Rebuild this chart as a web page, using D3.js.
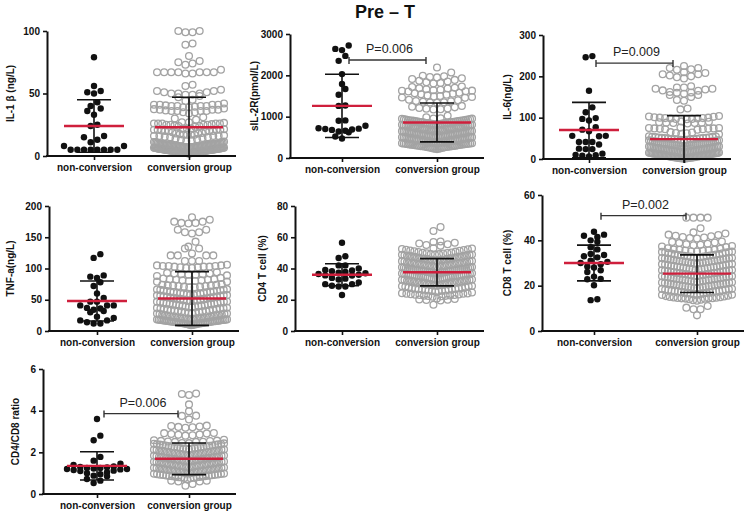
<!DOCTYPE html>
<html><head><meta charset="utf-8">
<script src="https://cdn.jsdelivr.net/npm/d3@7"></script>
<style>body{margin:0;background:#fff}svg{font-family:"Liberation Sans",Arial,sans-serif;display:block}</style>
</head><body><svg id="c" width="750" height="513"></svg>
<script>
// ---------- data ----------
const chartTitle = "Pre \u2013 T";
const groups = ["non-conversion", "conversion group"];
const yTitles = ["IL-1 \u03b2 (ng/L)", "sIL-2R(pmol/L)", "IL-6(ng/L)", "TNF-a(ng/L)", "CD4 T cell (%)", "CD8 T cell (%)", "CD4/CD8 ratio"];
const yMax = [100, 3000, 300, 200, 80, 60, 6];
const yTicks = [[0,50,100],[0,1000,2000,3000],[0,100,200,300],[0,50,100,150,200],[0,20,40,60,80],[0,20,40,60],[0,2,4,6]];

const il1bNon = [79,56,52,51,50,43,40,38,36,33,25,24,16,15,13,11,8,8,5,5,5,5,5,5,5,5];
const il1bConv = [100,100,99,99,90,89,80,76,75,74,73,69,67,67,67,67,67,67,67,66,66,57,56,53,52,52,51,51,50,50,50,49,49,48,47,45,44,
  42,41,41,41,41,40,40,40,40,39,39,38,37,37,37,36,36,36,36,35,35,34,31,30,29,27,27,26,26,26,26,26,25,25,25,25,24,24,
  22,22,22,21,21,21,21,20,20,20,20,19,18,18,17,17,17,17,16,16,16,16,15,15,12,11.5,11,11,10.5,10,10,9.8,9.5,9.5,9.2,9,9,8.8,8.5,8.5,8.3,
  8,8,7.8,7.6,7.5,7.3,7.2,7,7,6.8,6.6,6.5,6.4,6.2,6,6,5.9,5.8,5.6,5.5,5.4,5.3,5.2,5,5,4.9,4.8,4.7,4.6,4.5,4.4,4.3,4.2,4.1,4,3.9,
  3.8,3.7,3.6,3.5,3.4,3.3,3.2,3.1,3,2.9,2.8,2.7,2.6,2.5,2.4,2.2,2,
  11.2,10.9,10.7,10.3,10.1,9.9,9.8,9.6,9.4,9.3,9.1,8.9,8.8,8.6,8.4,8.3,8.1,7.9,7.8,7.6,7.4,7.3,7.1,6.9,6.8,6.6,6.4,6.3,6.1,5.9,
  5.8,5.6,5.4,5.3,5.1,4.9,4.8,4.6,4.4,4.3,4.1,3.9,3.8,3.6,3.4,3.3,3.1,2.9,2.8,2.6,2.4,2.3,2.1,10.4,9.7,8.7,7.7,6.7,5.7,4.7,3.7,2.7,
  21.5,20.5,19.5,18.5,17.5,16.5,15.5,14.5,14,13.5,13,12.5,40.5,39.5,37.5,36.5,26.5,25.5,24.5,23.5];

const sil2rNon = [2720,2640,2610,2470,2350,2030,1790,1670,1530,1270,1260,910,900,780,720,710,700,690,680,660,640,620,520,470];
const sil2rConv = [2190,2070,1990,1975,1960,1950,1930,1910,1890,1870,1850,1830,1815,1800,1730,1715,1700,1690,1680,1665,1650,1640,1630,1625,1615,1610,
  1580,1565,1555,1540,1530,1515,1500,1490,1475,1465,1455,1410,1395,1380,1370,1360,1350,1345,1335,1260,1240,1225,1210,1200,1190,1180,1175,1020,985,
  960,952,944,931,925,913,906,899,893,887,880,874,868,861,855,848,841,836,826,817,809,801,794,788,779,772,764,757,751,744,738,731,723,716,708,
  701,695,688,682,675,667,661,653,646,640,632,626,618,611,604,597,590,583,577,569,562,556,548,541,533,527,519,512,505,498,490,484,476,469,
  461,454,447,441,432,426,419,411,404,398,390,383,376,369,361,354,346,339,333,325,318,310,303,296,288,281,274,266,258,249,238,226,
  957,948,938,928,919,909,897,884,871,858,846,833,821,812,803,792,781,769,758,747,735,726,714,703,692,684,671,663,650,642,636,623,614,606,593,586,
  574,565,553,545,536,524,517,508,501,493,486,472,465,457,450,437,428,422,414,407,395,387,379,372,364,357,349,342,336,328,321,314,306,299,292,284,
  277,270,262,254,244,232,222,215,905,872,839,806,774,741,709,676,644,611,579,546,514,481,449,416,384,351,319,286];

const il6Non = [249,246,165,125,113,99,97,93,77,71,67,56,56,55,41,41,41,35,25,24,24,13,10,9,8,6];
const il6Conv = [225,220,220,217,216,210,208,205,205,202,200,198,195,176,173,173,170,170,168,166,165,162,161,160,158,155,155,150,143,141,122,120,
  104,103,102,101,100,100,99,99,98,98,97,97,96,91,90,89,88,88,87,87,86,76,75,75,74,74,73,73,72,72,71,65,64,63,62,61,60,
  55,54,53,52.5,51,50,49.5,49,48,47,46.5,46,45,44,43,42.5,42,41,40,39.5,39,38,37,36.5,36,35,34,33.5,33,32,31,30.5,30,29,28,
  27.5,27,26,25,24.5,24,23,22.5,22,21,20.5,20,19.5,19,18,17.5,17,16.5,16,15.5,15,14.5,14,13.5,13,12.5,12,11.5,11,10.5,10,9.5,9,
  8.5,8,7.5,7,6.5,6,5.5,5,4.5,4,3.5,3,2.5,2,1.5,1,
  54.5,53.5,51.5,50.5,48.5,47.5,45.5,44.5,43.5,41.5,40.5,38.5,37.5,35.5,34.5,32.5,31.5,29.5,28.5,26.5,25.5,23.5,21.5,18.5,16,14,12,10,8,6,4,2,
  52,48,44,40,36,32,28,24,20,16.8,13.2,9.2,5.2,3.8,2.2,1.2,50.8,46.2,42.2,38.2,34.2,30.2,26.2,22.2,18.2,14.2,11.2,8.2,6.2,4.2,3.2,2.8,1.8,
  7.8,9.8,12.8,15.2,17.2,19.2,21.2,23.2,25.2,27.2];

const tnfNon = [123,117,89,87,85,78,72,60,53,47,47,41,41,41,37,36,34,32,30,23,21,17,17,14,12,12];
const tnfConv = [182,178,175,175,173,173,172,162,162,158,158,156,143,135,132,132,124,121,121,121,121,112,112,112,
  106,105,105,104,104,104,103,103,103,102,102,101,101,94,93,92,92,91,91,90,90,89,88,85,84,83,83,82,82,81,81,80,80,79,79,
  75,74,74,73,73,73,72,72,71,71,70,70,67,66,66,65,64,63,63,62,61,60,60,59,58,57,57,56,55,54,53,52,52,51,50,49,48,47,47,46,
  45,44,44,43,42,41,40,40,39,38,37,36,36,35,34,33,32,32,31,30,29,28,28,27,26,25,25,24,23,22,22,21,20.5,20,19.5,19,18.5,18,
  17.5,17,16.5,16,15.5,15,14.5,14,13.5,13,12.5,12,11,10,
  66.5,65.2,64.4,63.1,62.3,61.2,60.4,59.3,58.1,57.4,56.2,55.3,54.4,53.2,52.1,51.3,50.4,49.2,48.3,47.2,46.1,45.4,44.3,43.2,42.4,41.3,40.2,39.1,
  38.3,37.2,36.4,35.3,34.2,33.1,32.4,31.2,30.3,29.2,28.4,27.3,26.2,25.1,24.3,23.2,22.4,21.3,20.8,20.2,19.8,19.2,18.8,18.2,17.8,17.2,16.8,16.2,
  15.8,15.2,14.8,14.2,13.8,13.2,12.8,12.2,11.8,11.3,10.8,10.4,9.8,9.2,19.6,18.6,17.6,16.6,15.6,14.6,13.6,12.6];

const cd4Non = [56.5,47.8,46.7,42,42,40,39,38.8,38.2,37.8,37.3,37,36.5,36,35.6,35.5,34,33.5,33,31,30,30,29,28.5,28.5,23];
const cd4Conv = [66.5,64,57.3,57,56.5,56,55.5,55,54.5,53,52.8,52.5,52.3,52,51.8,51.5,51.3,51,50.8,50.5,50.2,
  50.1,49.8,49.6,49.2,49,48.9,48.5,48.3,48.2,47.9,47.6,47.5,47.1,46.9,46.8,46.4,46.2,46,45.9,45.5,45.3,45.2,44.8,44.6,44.5,44.1,43.9,43.8,43.4,43.3,
  43,42.8,42.6,42.3,42.2,41.9,41.7,41.5,41.2,41.1,40.8,40.6,40.4,40.1,40,39.7,39.5,39.4,39.1,38.9,38.7,38.5,38.2,38.1,37.9,37.6,37.5,37.2,37.1,36.8,
  36.6,36.4,36.1,36,35.7,35.5,35.4,35.1,34.9,34.7,34.5,34.2,34.1,33.8,33.6,33.4,33.1,32.9,32.8,32.4,32.2,32,31.7,31.5,31.3,31,30.8,30.5,30.3,30,
  29.7,29.4,29.1,28.8,28.5,28.1,27.6,27.4,27.2,27,26.8,26.6,26.4,26.2,26,25.8,25.6,25.4,24.2,24,23.8,23.6,23.4,23.2,23,22.8,22.6,22.4,22.2,22,
  20.8,20.5,20.2,20,19.8,19.5,16.8,
  49.9,49.3,48.7,48.1,47.3,46.6,45.8,45.1,44.3,43.6,42.9,42.1,41.4,40.9,40.3,39.8,39.2,38.6,38.4,37.7,37.3,36.9,36.2,35.9,35.2,34.6,34,33.3,
  32.6,31.9,31.1,30.6,29.9,29.3,28.6,27.9,27.1,26.5,25.9,25.1,24.6,23.9,23.1,22.5,48.8,47.4,46.3,45.6,44.7,43.5,42.5,41.6,40.7,39.9,39.3,38.8,
  38.3,37.8,37.4,36.7,36.3,35.6,35,34.4,33.5,32.7,31.8,31.2,30.4,29.5,28.3,47.8,45.7,43.7,41.8,40.2,38.9,37.7,36.5,35.3,33.9,32.1,30.1];

const cd8Non = [43.8,42.5,42,41.5,40,39.4,37,36,34,33.5,33,32.5,31,30.5,30,29.5,28.5,28,26.8,26,24,23,22.8,20.2,14,13.6];
const cd8Conv = [50,50,50,50,45.3,43.5,43,42.5,42.3,42,41.8,41.5,41.2,41,40.8,39.5,39.3,39,38.8,38.5,38.3,38,37.8,37.5,37.3,37,
  36.5,36.3,36,35.8,35.6,35.4,35.2,35,34.8,34.6,34.4,34.2,33.9,33.7,33.5,33.3,33.1,33,32.8,32.6,32.4,32.3,32.1,31.9,31.7,31.6,31.4,31.2,31,30.9,30.7,30.5,
  30.3,30.2,30,29.8,29.6,29.5,29.3,29.1,28.9,28.8,28.6,28.4,28.2,28.1,27.9,27.7,27.5,27.4,27.2,27,26.8,26.7,26.5,26.3,26.1,26,25.8,25.6,25.4,25.3,
  25.1,24.9,24.7,24.6,24.4,24.2,24,23.9,23.7,23.5,23.3,23.2,23,22.8,22.6,22.5,22.3,22.1,21.9,21.8,21.6,21.4,21.2,21.1,20.9,20.7,20.5,20.4,20.2,20,
  19.8,19.7,19.5,19.3,19.1,18.6,18.4,18.2,18,17.8,17.6,17.4,17.2,17,16.8,16.6,16.4,16.2,16,15.2,15,14.8,14.6,14.5,14.4,14.3,14.2,14,13.8,13.6,13.4,
  11,10.3,9.6,9.6,6.9,
  35.9,35.5,35.1,34.7,34.3,33.8,33.4,32.9,32.5,32,31.5,31.1,30.6,30.1,29.7,29.2,28.7,28.3,27.8,27.3,26.9,26.4,25.9,25.5,25,24.5,24.1,23.6,23.1,22.7,
  22.2,21.7,21.3,20.8,20.3,19.9,19.4,18.9,18.5,18.1,17.7,17.3,16.9,16.5,15.9,15.4,14.9,14.4,34.9,33.6,32.2,30.8,29.4,28,26.6,25.2,23.8,22.4,21,19.6,
  18.2,16.7,15.6,14.7,33.2,31.3,29.9,27.6,25.7,24.3,22.9,21.5,20.6,19,17.5,16.1];

const ratioNon = [3.6,2.8,2.58,1.78,1.6,1.45,1.4,1.32,1.3,1.28,1.25,1.25,1.22,1.2,1.2,1.18,1.15,1.12,1.1,1.05,1.0,0.95,0.88,0.85,0.72,0.64,0.53];
const ratioConv = [4.82,4.8,4.75,4.3,3.97,3.76,3.75,3.58,3.28,3.26,3.24,3.22,3.2,3.18,2.93,2.92,2.9,2.88,2.86,2.84,2.82,2.8,
  2.6,2.58,2.56,2.55,2.54,2.52,2.51,2.5,2.5,
  2.45,2.43,2.41,2.4,2.38,2.36,2.33,2.31,2.3,2.28,2.25,2.24,2.22,2.2,2.18,2.15,2.14,2.12,2.1,2.08,2.06,2.05,2.03,2.01,2,1.98,1.96,1.95,1.93,1.91,
  1.9,1.88,1.86,1.85,1.83,1.81,1.8,1.78,1.76,1.75,1.73,1.72,1.7,1.68,1.67,1.65,1.63,1.62,1.6,1.58,1.57,1.55,1.53,1.52,1.5,1.48,1.47,1.45,1.43,1.42,
  1.4,1.38,1.37,1.35,1.33,1.32,1.3,1.28,1.27,1.25,1.23,1.22,1.2,1.18,1.17,1.15,1.13,1.12,1.1,1.08,1.06,1.04,1.02,1,0.98,0.96,0.94,0.92,0.9,0.88,
  0.86,0.84,0.82,0.8,0.78,0.76,0.7,0.64,0.64,0.6,0.6,0.48,0.4,
  2.44,2.39,2.35,2.29,2.26,2.21,2.17,2.13,2.09,2.04,1.99,1.94,1.89,1.84,1.79,1.74,1.69,1.64,1.59,1.54,1.49,1.44,1.39,1.34,1.29,1.24,1.19,1.14,
  1.09,1.05,1.01,0.97,0.93,0.89,0.85,0.81,0.77,2.37,2.27,2.16,2.07,1.97,1.87,1.77,1.66,1.56,1.46,1.36,1.26,1.16,1.07,0.99,0.91,0.83,
  2.32,2.11,1.92,1.71,1.51,1.31,1.11,0.95,0.87,0.79,1.61,1.41,1.21,1.71];

const groupMeans = [[24,23],[1260,860],[70,48],[48,52],[36,37.6],[30,25.3],[1.35,1.69]];
const groupSDs   = [[21,24],[765,470],[67,57],[32,43],[7,8.7],[7.9,8.3],[0.68,0.76]];
const pLabels = [null,"P=0.006","P=0.009",null,null,"P=0.002","P=0.006"];
const pBracketY = [null,2370,232,null,null,50.9,3.86];

const seriesNon  = [il1bNon, sil2rNon, il6Non, tnfNon, cd4Non, cd8Non, ratioNon];
const seriesConv = [il1bConv, sil2rConv, il6Conv, tnfConv, cd4Conv, cd8Conv, ratioConv];

// ---------- layout ----------
const frames = [
  {x:47,  top:31,  bot:156, c:[94,189],  lx:10},
  {x:290, top:34,  bot:158, c:[342,437], lx:254},
  {x:543, top:35,  bot:159, c:[589,684], lx:507},
  {x:49,  top:206, bot:331, c:[97,192],  lx:10},
  {x:295, top:206, bot:331, c:[342,437], lx:262},
  {x:542, top:195, bot:331, c:[594,697], lx:507},
  {x:43,  top:369, bot:494, c:[97,189],  lx:15}
];

function swarm(vals, y, cx, r, maxHalf, rowH) {
  const pts = vals.map(v => ({v, py: y(v)})).sort((a, b) => a.v - b.v);
  const d = 2 * r + 0.3;
  const rows = []; let cur = null;
  for (const p of pts) {
    if (!cur || cur.y0 - p.py >= rowH) { cur = {y0: p.py, pts: []}; rows.push(cur); }
    cur.pts.push(p);
  }
  const out = [];
  rows.forEach(row => {
    const n = row.pts.length;
    const sp = n > 1 ? Math.min(d, 2 * maxHalf / (n - 1)) : 0;
    const slots = d3.range(n).map(i => (i - (n - 1) / 2) * sp)
      .sort((a, b) => Math.abs(a) - Math.abs(b) || a - b);
    row.pts.forEach((p, i) => out.push({x: cx + slots[i], y: p.py}));
  });
  return out;
}

const svg = d3.select("#c");
svg.append("text").attr("x", 385).attr("y", 18).attr("text-anchor", "middle")
  .attr("font-size", 18).attr("font-weight", "bold").attr("fill", "#111").text(chartTitle);

frames.forEach((f, i) => {
  const g = svg.append("g");
  const y = d3.scaleLinear().domain([0, yMax[i]]).range([f.bot, f.top]);
  const x = d3.scalePoint().domain(groups).range(f.c);
  const xEnd = f.c[1] + 47;

  // points
  const conv = swarm(seriesConv[i], y, x(groups[1]), 3.4, 35, 6);
  g.append("g").selectAll("circle").data(conv).join("circle")
    .attr("cx", d => d.x).attr("cy", d => d.y).attr("r", 3.4)
    .attr("fill", "none").attr("stroke", "#a3a3a3").attr("stroke-width", 1.3);
  const non = swarm(seriesNon[i], y, x(groups[0]), 3.2, 30, 6.7);
  g.append("g").selectAll("circle").data(non).join("circle")
    .attr("cx", d => d.x).attr("cy", d => d.y).attr("r", 3.2).attr("fill", "#111");

  // error bars + mean
  groups.forEach((gname, k) => {
    const cx = x(gname), m = groupMeans[i][k], s = groupSDs[i][k];
    const hi = m + s, lo = m - s, cap = 17;
    g.append("line").attr("x1", cx).attr("x2", cx).attr("y1", y(hi)).attr("y2", y(lo))
      .attr("stroke", "#111").attr("stroke-width", 1.6);
    g.append("line").attr("x1", cx - cap).attr("x2", cx + cap).attr("y1", y(hi)).attr("y2", y(hi))
      .attr("stroke", "#111").attr("stroke-width", 1.6);
    if (lo > 0) g.append("line").attr("x1", cx - cap).attr("x2", cx + cap).attr("y1", y(lo)).attr("y2", y(lo))
      .attr("stroke", "#111").attr("stroke-width", 1.6);
    const mw = k ? 34 : 30;
    g.append("line").attr("x1", cx - mw).attr("x2", cx + mw).attr("y1", y(m)).attr("y2", y(m))
      .attr("stroke", "#cf1f3c").attr("stroke-width", 2.4);
  });

  // y axis
  const ya = g.append("g").attr("transform", `translate(${f.x},0)`)
    .call(d3.axisLeft(y).tickValues(yTicks[i]).tickFormat(d3.format("d")).tickSize(4).tickPadding(3).tickSizeOuter(0));
  ya.select(".domain").attr("stroke-width", 2).attr("stroke", "#111");
  ya.selectAll(".tick line").attr("stroke-width", 1.6).attr("stroke", "#111");
  ya.selectAll(".tick text").attr("font-size", 10).attr("font-weight", "bold").attr("fill", "#111")
    .attr("font-family", '"Liberation Sans",Arial,sans-serif');

  // x axis
  const xa = g.append("g").attr("transform", `translate(0,${f.bot})`)
    .call(d3.axisBottom(x).tickSize(4).tickPadding(4).tickSizeOuter(0));
  xa.select(".domain").remove();
  xa.append("line").attr("x1", f.x - 1).attr("x2", xEnd).attr("stroke", "#111").attr("stroke-width", 2);
  xa.selectAll(".tick line").attr("stroke-width", 1.6).attr("stroke", "#111");
  xa.selectAll(".tick text").attr("font-size", 10).attr("font-weight", "bold").attr("fill", "#111")
    .attr("font-family", '"Liberation Sans",Arial,sans-serif');

  // y title
  g.append("text").attr("transform", `translate(${f.lx},${(f.top + f.bot) / 2}) rotate(-90)`)
    .attr("text-anchor", "middle").attr("dominant-baseline", "central")
    .attr("font-size", 10).attr("font-weight", "bold").attr("fill", "#111").text(yTitles[i]);

  // significance bracket
  if (pLabels[i]) {
    const by = y(pBracketY[i]);
    const x1 = x(groups[0]) + 7, x2 = x(groups[1]) - 11;
    g.append("line").attr("x1", x1).attr("x2", x2).attr("y1", by).attr("y2", by).attr("stroke", "#333").attr("stroke-width", 1.4);
    [x1, x2].forEach(xx => g.append("line").attr("x1", xx).attr("x2", xx).attr("y1", by - 3).attr("y2", by + 4)
      .attr("stroke", "#333").attr("stroke-width", 1.4));
    g.append("text").attr("x", (x1 + x2) / 2 + 2).attr("y", by - 7).attr("text-anchor", "middle")
      .attr("font-size", 12.5).attr("fill", "#222").text(pLabels[i]);
  }
});
</script></body></html>
